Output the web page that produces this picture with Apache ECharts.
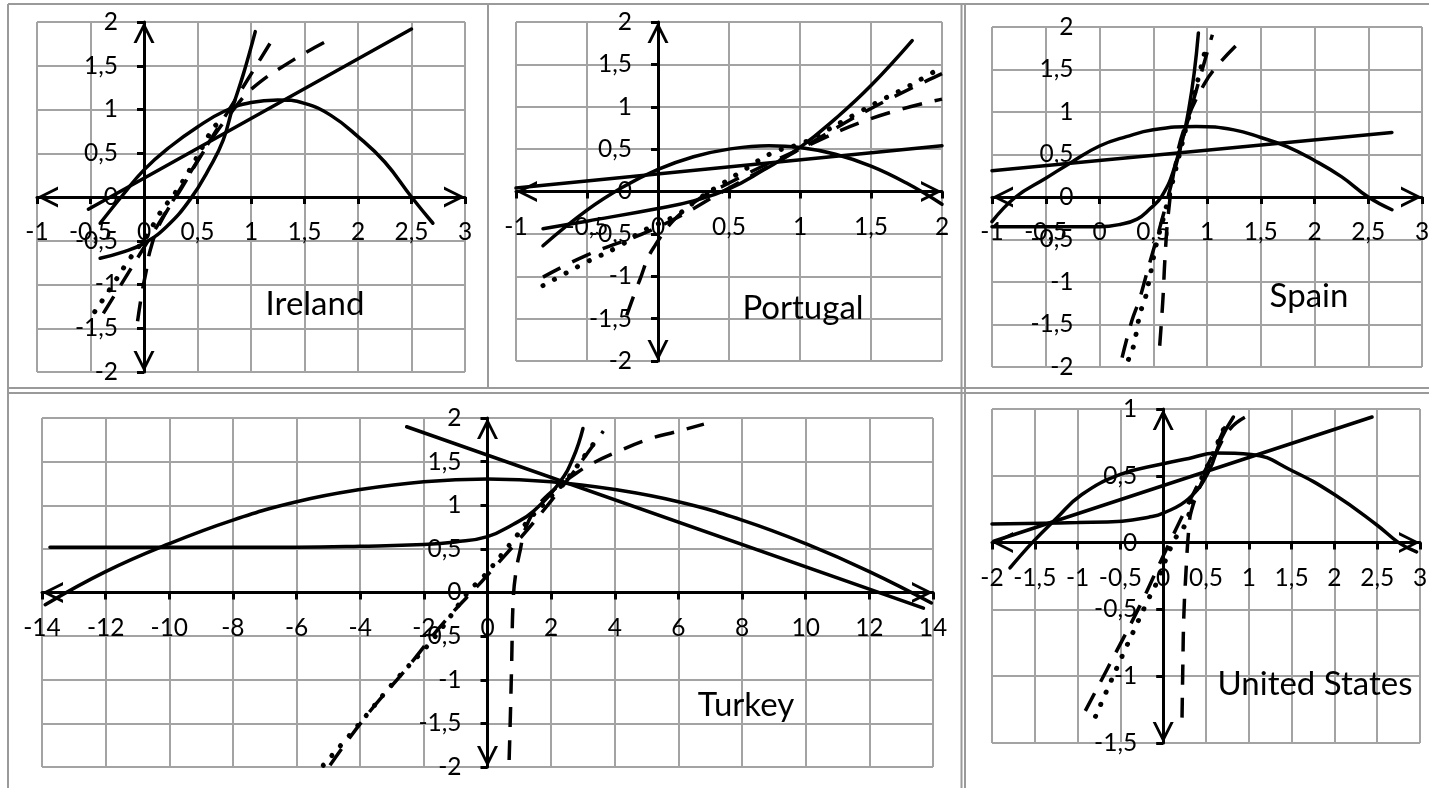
<!DOCTYPE html>
<html><head><meta charset="utf-8">
<script src="https://cdn.jsdelivr.net/npm/echarts@6/dist/echarts.min.js"></script>
<style>html,body{margin:0;padding:0;background:#fff}#c{width:1429px;height:788px}</style>
</head><body><div id="c"></div>
<script>
// ---------- panel titles ----------
const panelNames = ['Ireland', 'Portugal', 'Spain', 'Turkey', 'United States'];

// ---------- tick values & labels ----------
const ieXTicks = [-1, -0.5, 0, 0.5, 1, 1.5, 2, 2.5, 3];
const ieXLabels = ['-1', '-0,5', '0', '0,5', '1', '1,5', '2', '2,5', '3'];
const ieYTicks = [-2, -1.5, -1, -0.5, 0, 0.5, 1, 1.5, 2];
const ieYLabels = ['-2', '-1,5', '-1', '-0,5', '0', '0,5', '1', '1,5', '2'];

const ptXTicks = [-1, -0.5, 0, 0.5, 1, 1.5, 2];
const ptXLabels = ['-1', '-0,5', '0', '0,5', '1', '1,5', '2'];
const ptYTicks = [-2, -1.5, -1, -0.5, 0, 0.5, 1, 1.5, 2];
const ptYLabels = ['-2', '-1,5', '-1', '-0,5', '0', '0,5', '1', '1,5', '2'];

const spXTicks = [-1, -0.5, 0, 0.5, 1, 1.5, 2, 2.5, 3];
const spXLabels = ['-1', '-0,5', '0', '0,5', '1', '1,5', '2', '2,5', '3'];
const spYTicks = [-2, -1.5, -1, -0.5, 0, 0.5, 1, 1.5, 2];
const spYLabels = ['-2', '-1,5', '-1', '-0,5', '0', '0,5', '1', '1,5', '2'];

const trXTicks = [-14, -12, -10, -8, -6, -4, -2, 0, 2, 4, 6, 8, 10, 12, 14];
const trXLabels = ['-14', '-12', '-10', '-8', '-6', '-4', '-2', '0', '2', '4', '6', '8', '10', '12', '14'];
const trYTicks = [-2, -1.5, -1, -0.5, 0, 0.5, 1, 1.5, 2];
const trYLabels = ['-2', '-1,5', '-1', '-0,5', '0', '0,5', '1', '1,5', '2'];

const usXTicks = [-2, -1.5, -1, -0.5, 0, 0.5, 1, 1.5, 2, 2.5, 3];
const usXLabels = ['-2', '-1,5', '-1', '-0,5', '0', '0,5', '1', '1,5', '2', '2,5', '3'];
const usYTicks = [-1.5, -1, -0.5, 0, 0.5, 1];
const usYLabels = ['-1,5', '-1', '-0,5', '0', '0,5', '1'];

// ---------- Ireland series ----------
const ieLinear = [[-0.52, -0.14], [2.5, 1.92]];
const ieQuad = [[-0.41, -0.3], [-0.2, 0.02], [0, 0.31], [0.25, 0.58], [0.5, 0.8], [0.75, 0.98], [1, 1.08], [1.25, 1.11], [1.5, 1.07], [1.75, 0.93], [2, 0.69], [2.25, 0.4], [2.5, 0.0], [2.7, -0.3]];
const ieExp = [[-0.41, -0.7], [-0.2, -0.63], [0, -0.53], [0.21, -0.34], [0.43, -0.03], [0.62, 0.35], [0.74, 0.65], [0.83, 1.03], [0.93, 1.41], [1.04, 1.89]];
const ieDot = [[-0.46, -1.31], [-0.29, -1.0], [-0.13, -0.7], [0.04, -0.42], [0.13, -0.22], [0.23, -0.05], [0.31, 0.08], [0.46, 0.38], [0.59, 0.67], [0.65, 0.8], [0.74, 0.86]];
const ieDash = [[-0.38, -1.33], [1.19, 1.78]];
const ieDashLog = [[-0.06, -1.42], [-0.02, -1.1], [0.02, -0.85], [0.06, -0.6], [0.15, -0.3], [0.35, 0.1], [0.6, 0.6], [0.85, 1.02], [1.02, 1.25], [1.4, 1.57], [1.77, 1.82]];

// ---------- Portugal series ----------
const ptLinear = [[-1, 0.04], [2, 0.54]];
const ptQuad = [[-0.81, -0.64], [-0.5, -0.22], [-0.25, 0.05], [0, 0.26], [0.25, 0.41], [0.5, 0.5], [0.78, 0.54], [1, 0.52], [1.25, 0.44], [1.5, 0.3], [1.75, 0.1], [2, -0.15]];
const ptExp = [[-0.81, -0.44], [-0.5, -0.35], [0, -0.2], [0.25, -0.11], [0.5, 0.03], [0.74, 0.25], [1, 0.52], [1.25, 0.86], [1.5, 1.25], [1.79, 1.78]];
const ptDot = [[-0.81, -1.11], [-0.7, -1.01], [-0.5, -0.83], [-0.29, -0.66], [-0.1, -0.46], [0.13, -0.28], [0.3, -0.07], [0.47, 0.11], [0.62, 0.27], [0.81, 0.46], [1, 0.56], [1.1, 0.64], [1.42, 0.94], [1.61, 1.11], [1.73, 1.21], [1.92, 1.39], [2, 1.47]];
const ptDash = [[-0.81, -1.01], [-0.5, -0.75], [0, -0.42], [0.5, 0.04], [1, 0.5], [1.5, 0.98], [2, 1.39]];
const ptDashLog = [[-0.22, -1.46], [-0.13, -1.05], [-0.03, -0.66], [0.2, -0.2], [0.5, 0.1], [1, 0.5], [1.5, 0.86], [2, 1.09]];

// ---------- Spain series ----------
const spLinear = [[-1, 0.31], [2.72, 0.76]];
const spQuad = [[-1, -0.29], [-0.78, 0], [-0.5, 0.22], [-0.26, 0.41], [0, 0.6], [0.25, 0.71], [0.5, 0.79], [0.9, 0.83], [1.25, 0.79], [1.5, 0.7], [1.75, 0.59], [2, 0.43], [2.25, 0.24], [2.5, 0.0], [2.72, -0.15]];
const spLogistic = [[-1, -0.35], [-0.5, -0.35], [0, -0.35], [0.2, -0.32], [0.35, -0.26], [0.46, -0.15], [0.58, 0.01], [0.7, 0.36], [0.83, 1.03], [0.92, 1.93]];
const spDot = [[0.27, -1.91], [0.32, -1.74], [0.35, -1.54], [0.38, -1.36], [0.43, -1.17], [0.46, -0.99], [0.49, -0.8], [0.52, -0.6], [0.6, -0.22], [0.7, 0.28], [0.8, 0.79], [0.9, 1.3], [1.0, 1.81]];
const spDash = [[0.21, -1.89], [0.3, -1.46], [0.37, -1.21], [0.45, -0.85], [0.6, -0.18], [0.8, 0.8], [1.05, 1.91]];
const spDashLog = [[0.56, -1.75], [0.59, -1.2], [0.61, -0.7], [0.64, -0.2], [0.7, 0.35], [0.8, 0.85], [0.97, 1.32], [1.1, 1.55], [1.31, 1.83]];

// ---------- Turkey series ----------
const trLinear = [[-2.54, 1.9], [13.7, -0.18]];
const trQuad = [[-13.9, -0.14], [-12, 0.24], [-10, 0.56], [-8, 0.83], [-6, 1.04], [-4, 1.18], [-2, 1.27], [0, 1.3], [2, 1.27], [4, 1.18], [6, 1.04], [8, 0.83], [10, 0.56], [12, 0.24], [13.95, -0.12]];
const trLogistic = [[-13.75, 0.52], [-10, 0.52], [-6, 0.52], [-4, 0.53], [-2, 0.55], [-1, 0.58], [0, 0.64], [0.8, 0.78], [1.44, 0.93], [2.28, 1.27], [2.7, 1.55], [3.0, 1.88]];
const trDot = [[-5.16, -1.98], [-4.11, -1.54], [-2.85, -0.99], [-1.7, -0.53], [-0.55, 0.03], [-0.18, 0.16], [0.81, 0.6], [1.34, 0.85], [2, 1.1], [2.5, 1.3], [3.12, 1.6], [3.54, 1.81]];
const trDash = [[-4.95, -1.98], [-3.8, -1.41], [-2.54, -0.87], [-1.39, -0.35], [0, 0.2], [2, 1.05], [3.64, 1.85]];
const trDashLog = [[0.68, -1.92], [0.72, -1.4], [0.76, -0.8], [0.81, -0.07], [0.9, 0.25], [1.02, 0.47], [1.18, 0.72], [1.5, 0.95], [2, 1.15], [2.8, 1.37], [3.3, 1.48], [4, 1.6], [5, 1.75], [6, 1.85], [6.8, 1.93]];

// ---------- United States series ----------
const usLinear = [[-1.98, 0.01], [2.44, 0.94]];
const usQuad = [[-1.79, -0.19], [-1.53, 0], [-1.25, 0.18], [-0.95, 0.36], [-0.5, 0.51], [0, 0.59], [0.3, 0.63], [0.61, 0.67], [1.03, 0.66], [1.5, 0.54], [2, 0.36], [2.5, 0.13], [2.75, 0], [2.96, -0.07]];
const usLogistic = [[-2, 0.14], [-1, 0.15], [-0.48, 0.16], [-0.17, 0.19], [0, 0.22], [0.3, 0.33], [0.53, 0.53], [0.68, 0.78], [0.82, 0.94]];
const usDot = [[-0.79, -1.3], [-0.64, -1.08], [-0.48, -0.85], [-0.33, -0.64], [-0.17, -0.42], [-0.09, -0.32], [0.06, -0.08], [0.14, 0.03], [0.26, 0.14], [0.37, 0.37], [0.5, 0.55], [0.76, 0.93]];
const usDash = [[-0.91, -1.26], [-0.6, -0.88], [-0.27, -0.47], [0, -0.1], [0.3, 0.3], [0.55, 0.62], [0.78, 0.95]];
const usDashLog = [[0.22, -1.31], [0.23, -0.9], [0.24, -0.57], [0.26, -0.29], [0.3, 0.11], [0.33, 0.24], [0.45, 0.45], [0.6, 0.65], [0.78, 0.85], [0.96, 0.94]];

// ---------- helpers ----------
const ARROW = 'path://M20,0 L40,40 L34,40 L20,12 L6,40 L0,40 Z';
const FONT = 'Lato';
function fmt(ticks, labels) {
  return function (v) {
    const i = ticks.findIndex(t => Math.abs(t - v) < 1e-6);
    return i >= 0 ? labels[i] : '';
  };
}
// distance (px) from the grid edge to the zero line of the other axis
function zeroShift(ticks, size) {
  const min = ticks[0], max = ticks[ticks.length - 1];
  return -size * (0 - min) / (max - min);
}
function mainAxis(gi, ticks, labels, isX, showLine, offset) {
  return {
    type: 'value', gridIndex: gi, position: isX ? 'bottom' : 'left', offset: offset,
    min: ticks[0], max: ticks[ticks.length - 1], interval: ticks[1] - ticks[0],
    axisLine: {
      show: showLine, onZero: false,
      symbol: [ARROW, ARROW], symbolSize: [21, 21], symbolOffset: [10.5, -10.5],
      lineStyle: { color: '#000', width: 3 }
    },
    axisTick: { show: showLine, length: 7, lineStyle: { color: '#000', width: 3 } },
    axisLabel: {
      show: true, margin: isX ? 23 : 26, color: '#000', fontSize: 24.5, fontFamily: FONT,
      showMinLabel: true, showMaxLabel: true, hideOverlap: false,
      formatter: fmt(ticks, labels)
    },
    splitLine: { show: false },
    z: 3
  };
}
function gridAxis(gi, ticks) {
  return {
    type: 'value', gridIndex: gi,
    min: ticks[0], max: ticks[ticks.length - 1], interval: ticks[1] - ticks[0],
    axisLine: { show: false, onZero: false }, axisTick: { show: false }, axisLabel: { show: false },
    splitLine: { show: true, lineStyle: { color: '#a3a3a3', width: 2 } },
    z: 0
  };
}
function line(gi, data, kind) {
  const s = {
    type: 'line', xAxisIndex: gi, yAxisIndex: gi, data: data,
    symbol: 'none', showSymbol: false, smooth: 0.45,
    silent: true, animation: false, z: 5,
    lineStyle: { color: '#000', width: 3.5, type: 'solid', cap: 'round' }
  };
  if (kind === 'dot') s.lineStyle = { color: '#000', width: 5, type: [0.1, 13], cap: 'round' };
  if (kind === 'dash') s.lineStyle = { color: '#000', width: 3.5, type: [20, 13], cap: 'butt' };
  return s;
}

const gridBoxes = [
  { left: 37, top: 22, width: 428, height: 350 },
  { left: 516, top: 22, width: 426, height: 339 },
  { left: 992, top: 27, width: 430, height: 340 },
  { left: 42, top: 418, width: 891, height: 349 },
  { left: 992, top: 409, width: 428, height: 334 }
];
const grids = gridBoxes.map(g => Object.assign({ containLabel: false, outerBoundsMode: 'none', show: false }, g));

const xTickSets = [[ieXTicks, ieXLabels], [ptXTicks, ptXLabels], [spXTicks, spXLabels], [trXTicks, trXLabels], [usXTicks, usXLabels]];
const yTickSets = [[ieYTicks, ieYLabels], [ptYTicks, ptYLabels], [spYTicks, spYLabels], [trYTicks, trYLabels], [usYTicks, usYLabels]];
const yLineShown = [true, true, false, true, true];

const xAxes = [], yAxes = [];
for (let gi = 0; gi < 5; gi++) {
  const [xt, xl] = xTickSets[gi], [yt, yl] = yTickSets[gi];
  xAxes.push(mainAxis(gi, xt, xl, true, true, zeroShift(yt, gridBoxes[gi].height)));
  yAxes.push(mainAxis(gi, yt, yl, false, yLineShown[gi], zeroShift(xt, gridBoxes[gi].width)));
}
for (let gi = 0; gi < 5; gi++) {
  xAxes.push(gridAxis(gi, xTickSets[gi][0]));
  yAxes.push(gridAxis(gi, yTickSets[gi][0]));
}

const panelSeries = [
  [ieLinear, ieQuad, ieExp, ieDot, ieDash, ieDashLog],
  [ptLinear, ptQuad, ptExp, ptDot, ptDash, ptDashLog],
  [spLinear, spQuad, spLogistic, spDot, spDash, spDashLog],
  [trLinear, trQuad, trLogistic, trDot, trDash, trDashLog],
  [usLinear, usQuad, usLogistic, usDot, usDash, usDashLog]
];
const kinds = ['solid', 'solid', 'solid', 'dot', 'dash', 'dash'];
const series = [];
panelSeries.forEach((arr, gi) => arr.forEach((d, k) => series.push(line(gi, d, kinds[k]))));

const border = { stroke: '#9a9a9a', lineWidth: 2 };
function hl(x1, y1, x2, y2) { return { type: 'line', z: 0, silent: true, shape: { x1, y1, x2, y2 }, style: border }; }
const titlePos = [[315, 304], [803, 308], [1309, 296], [746, 705], [1315, 684]];
const graphics = [
  hl(8, 4, 1429, 4), hl(8, 4, 8, 788),
  hl(8, 388, 1429, 388), hl(8, 393, 1429, 393),
  hl(488, 4, 488, 388), hl(961.5, 4, 961.5, 788), hl(965, 4, 965, 788)
].concat(panelNames.map((n, i) => ({
  type: 'text', z: 10, silent: true, x: titlePos[i][0], y: titlePos[i][1],
  style: { text: n, fontSize: 33, fontFamily: FONT, fill: '#000', align: 'center', verticalAlign: 'middle' }
})));

const chart = echarts.init(document.getElementById('c'), null, { renderer: 'canvas' });
chart.setOption({
  backgroundColor: '#fff',
  animation: false,
  grid: grids,
  xAxis: xAxes,
  yAxis: yAxes,
  series: series,
  graphic: graphics
});
</script></body></html>
